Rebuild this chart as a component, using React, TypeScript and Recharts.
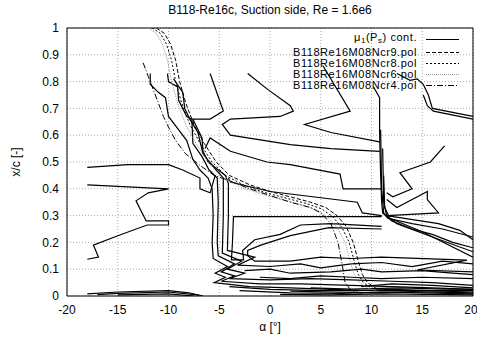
import { LineChart, Line, XAxis, YAxis, CartesianGrid, ReferenceArea, Label } from "recharts";

type Pt = { a: number; v: number };
const pts = (arr: number[][]): Pt[] => arr.map(([a, v]) => ({ a, v }));

const xTicks = [-20, -15, -10, -5, 0, 5, 10, 15, 20];
const yTicks = [0, 0.1, 0.2, 0.3, 0.4, 0.5, 0.6, 0.7, 0.8, 0.9, 1];

// transition curves from the polars
const ncr9 = [
  [-11.2, 1.0], [-10.4, 0.98], [-9.8, 0.94], [-9.3, 0.88], [-8.9, 0.8], [-8.3, 0.72], [-7.5, 0.64],
  [-6.5, 0.57], [-5.3, 0.5], [-4.0, 0.45], [-2, 0.415], [0, 0.39], [2, 0.37], [4, 0.35], [5.5, 0.33],
  [6.6, 0.3], [7.5, 0.26], [8.2, 0.2], [8.7, 0.13], [9.1, 0.08], [9.6, 0.05], [10.4, 0.03], [11, 0.02],
];
const ncr8 = [
  [-11.6, 1.0], [-10.8, 0.98], [-10.2, 0.94], [-9.7, 0.88], [-9.3, 0.8], [-8.7, 0.72], [-7.9, 0.64],
  [-6.9, 0.57], [-5.7, 0.5], [-4.4, 0.45], [-2.4, 0.41], [-0.4, 0.385], [1.6, 0.365], [3.6, 0.345],
  [5.1, 0.325], [6.2, 0.295], [7.1, 0.255], [7.8, 0.2], [8.3, 0.13], [8.7, 0.08], [9.2, 0.05],
  [10, 0.03], [10.8, 0.02],
];
const ncr6 = [
  [-12.0, 1.0], [-11.2, 0.98], [-10.6, 0.94], [-10.1, 0.88], [-9.7, 0.8], [-9.1, 0.72], [-8.3, 0.64],
  [-7.3, 0.57], [-6.1, 0.5], [-4.8, 0.445], [-2.8, 0.405], [-0.8, 0.38], [1.2, 0.36], [3.2, 0.34],
  [4.7, 0.32], [5.8, 0.29], [6.7, 0.25], [7.4, 0.2], [7.9, 0.13], [8.3, 0.08], [8.8, 0.05],
  [9.6, 0.03], [10.5, 0.02],
];
const ncr4 = [
  [-12.5, 0.87], [-12.0, 0.82], [-11.3, 0.75], [-10.5, 0.67], [-10.0, 0.63], [-9.3, 0.58], [-8.3, 0.53],
  [-7, 0.49], [-5.5, 0.45], [-4, 0.43], [-2, 0.4], [0, 0.375], [2, 0.35], [4, 0.33], [5, 0.31],
  [6, 0.27], [6.7, 0.2], [7.1, 0.12], [7.4, 0.05], [8, 0.02], [9, 0.01],
];

// mu_1(P_s) contour lines
const contours = [
  [[-11.8, 0.83], [-11.8, 0.79], [-11.0, 0.76], [-10.3, 0.74], [-10.0, 0.67], [-9.2, 0.63], [-8.2, 0.58],
    [-7.6, 0.51], [-6.9, 0.47], [-6.1, 0.44], [-5.7, 0.4], [-5.6, 0.3], [-5.7, 0.2], [-5.6, 0.14],
    [-4.2, 0.11], [-5.4, 0.085], [-4.4, 0.07], [-5.5, 0.05], [-2, 0.035], [2, 0.03], [6, 0.025],
    [10, 0.02], [15, 0.02], [20, 0.015]],
  [[-10.1, 0.83], [-10.0, 0.8], [-9.1, 0.78], [-9.0, 0.73], [-8.2, 0.67], [-7.7, 0.66], [-7.6, 0.57],
    [-6.7, 0.52], [-6.0, 0.47], [-5.2, 0.44], [-5.1, 0.35], [-5.2, 0.2], [-5.1, 0.15], [-3.5, 0.12],
    [-4.8, 0.09], [-3.5, 0.075], [-4.8, 0.055], [-1, 0.045], [3, 0.045], [8, 0.04], [12, 0.035],
    [16, 0.03], [20, 0.025]],
  [[-9.5, 0.81], [-8.6, 0.76], [-8.4, 0.7], [-7.9, 0.66], [-7.1, 0.61], [-6.6, 0.53], [-5.3, 0.47],
    [-4.6, 0.44], [-4.6, 0.3], [-4.7, 0.16], [-2.8, 0.13], [-4.2, 0.1], [-2.5, 0.085], [-4, 0.065],
    [0, 0.06], [4, 0.065], [8, 0.06], [12, 0.055], [16, 0.05], [20, 0.04]],
  [[-5.9, 0.83], [-4.6, 0.69], [-5.9, 0.66], [-7.6, 0.66], [-6.7, 0.59], [-6.6, 0.54], [-6.1, 0.5],
    [-5.6, 0.485], [-4.4, 0.45], [-4.1, 0.42], [-4.1, 0.3], [-4.2, 0.17], [-1.5, 0.145], [-3.2, 0.115],
    [0, 0.11], [3, 0.12], [5, 0.105], [8, 0.12], [11, 0.125], [14, 0.11], [17, 0.13], [20, 0.12]],
  [[-18, 0.48], [-14, 0.49], [-10, 0.49], [-8.6, 0.47], [-6.9, 0.44], [-6.9, 0.4], [-5.9, 0.385],
    [-5.4, 0.45]],
  [[-18, 0.415], [-10, 0.4], [-12, 0.385], [-13.2, 0.355], [-12.2, 0.28], [-10, 0.28], [-10, 0.265],
    [-12.1, 0.265], [-15, 0.225], [-17.4, 0.19], [-16.9, 0.145], [-18, 0.137]],
  [[-6.4, 0.55], [-5.9, 0.59], [-3.9, 0.54], [-0.3, 0.5], [2, 0.49], [6.9, 0.455], [7.2, 0.4], [11, 0.4]],
  [[-4.1, 0.44], [-3.9, 0.425], [0, 0.39], [8.6, 0.35], [9.1, 0.31], [11, 0.3]],
  [[-2.2, 0.83], [-0.2, 0.77], [2, 0.71], [2.3, 0.69], [1, 0.67], [-3.9, 0.66], [-4.7, 0.64],
    [-3.9, 0.6], [2, 0.565], [6, 0.55], [10.8, 0.54]],
  [[5.2, 0.86], [7.9, 0.69], [3.4, 0.64], [6, 0.61], [10.8, 0.575]],
  [[11, 0.296], [-3.6, 0.296], [-3.7, 0.2], [-3.8, 0.135], [-2.6, 0.135], [-2.7, 0.17], [-1.5, 0.21],
    [1, 0.23], [3, 0.265], [6, 0.27], [11, 0.26]],
  [[11, 0.25], [5.8, 0.255], [2, 0.225], [-0.9, 0.19], [-2.2, 0.17], [-2.2, 0.15], [-1.5, 0.13],
    [2, 0.13], [5, 0.145], [8, 0.14], [11, 0.145], [19.4, 0.134], [14.5, 0.097], [20, 0.09]],
  [[-2.5, 0.095], [0, 0.1], [2, 0.085], [6, 0.09], [9, 0.1], [11, 0.09], [15, 0.095], [18, 0.085],
    [20, 0.08]],
  [[-1, 0.07], [2, 0.065], [5, 0.075], [8, 0.07], [11, 0.065], [15, 0.07], [20, 0.065]],
  [[10.2, 0.78], [10.8, 0.74], [10.8, 0.6], [10.9, 0.45], [11.0, 0.35], [11.1, 0.31], [12, 0.28],
    [14, 0.25], [16, 0.23], [18, 0.2], [20, 0.18]],
  [[10.9, 0.62], [11.0, 0.4], [11.2, 0.31], [11.6, 0.29], [14, 0.27], [17, 0.25], [20, 0.22]],
  [[11.1, 0.55], [11.2, 0.35], [11.5, 0.3], [12.5, 0.27], [16, 0.22], [20, 0.165]],
  [[11.2, 0.45], [11.3, 0.33], [11.8, 0.29], [15, 0.24], [20, 0.145]],
  [[11.5, 0.3], [16.6, 0.27], [18.7, 0.245], [20, 0.21]],
  [[17.2, 0.56], [15.8, 0.5], [12.8, 0.46], [14, 0.4], [12.1, 0.37], [11.5, 0.385]],
  [[11.5, 0.36], [12.5, 0.33], [15.5, 0.39], [15.5, 0.36], [16.6, 0.31], [11.5, 0.3]],
  [[12.5, 0.83], [13.8, 0.805], [14.5, 0.81], [15.1, 0.79], [15.6, 0.75], [16, 0.7], [20, 0.67]],
  [[15.1, 0.75], [15.5, 0.71], [16.1, 0.69], [20, 0.66]],
  [[-18, 0.008], [-15, 0.015], [-10, 0.02], [-8, 0.012], [-6.6, 0.0]],
  [[-17, 0.005], [-15, 0.01], [-10, 0.015], [-7, 0.003]],
  [[-15, 0.004], [-10, 0.008], [-7.5, 0.0]],
  [[-4, 0.035], [0, 0.025], [5, 0.02], [9, 0.02], [12, 0.025], [16, 0.02], [20, 0.02]],
  [[-3, 0.02], [2, 0.012], [7, 0.01], [11, 0.015], [15, 0.012], [20, 0.008]],
  [[1, 0.006], [6, 0.004], [11, 0.008], [20, 0.004]],
  [[9, 0.035], [12, 0.045], [16, 0.04], [20, 0.03]],
  [[2, 0.018], [6, 0.015], [10, 0.012], [14, 0.016], [20, 0.012]],
  [[4, 0.03], [8, 0.026], [13, 0.03], [17, 0.026], [20, 0.025]],
];

const legendRows = [
  { label: "cont.", dash: "", color: "#000", mu: true },
  { label: "B118Re16M08Ncr9.pol", dash: "4 2", color: "#000" },
  { label: "B118Re16M08Ncr8.pol", dash: "2 2", color: "#000" },
  { label: "B118Re16M08Ncr6.pol", dash: "1 1", color: "#999" },
  { label: "B118Re16M08Ncr4.pol", dash: "6 2 1 2", color: "#000" },
];
const legendCenters = [37.5, 52, 63.3, 74.6, 85.9];

const font = '"Liberation Sans", Arial, sans-serif';

export default function App() {
  const polars = [
    { d: ncr9, dash: "4 2", color: "#000" },
    { d: ncr8, dash: "2 2", color: "#000" },
    { d: ncr6, dash: "1 1", color: "#999" },
    { d: ncr4, dash: "6 2 1 2", color: "#000" },
  ];
  return (
    <div style={{ position: "absolute", left: 0, top: 0, width: 477, height: 338, fontFamily: font, background: "#fff" }}>
      <div style={{ position: "absolute", top: 3, left: 67, width: 406, textAlign: "center", fontSize: 12 }}>
        B118-Re16c, Suction side, Re = 1.6e6
      </div>
      <LineChart width={477} height={338} margin={{ top: 28, right: 4, bottom: 0, left: 0 }}>
        <CartesianGrid stroke="#aaa" strokeDasharray="1 2" />
        <XAxis
          type="number"
          dataKey="a"
          domain={[-20, 20]}
          ticks={xTicks}
          allowDataOverflow
          height={42}
          tickLine={false}
          axisLine={false}
          tickSize={0}
          tickMargin={9}
          tick={{ fill: "#000", fontSize: 12, fontFamily: font }}
        >
          <Label value="α [°]" position="insideBottom" offset={7} fill="#000" fontSize={12} fontFamily={font} />
        </XAxis>
        <YAxis
          type="number"
          dataKey="v"
          domain={[0, 1]}
          ticks={yTicks}
          allowDataOverflow
          width={67}
          tickLine={false}
          axisLine={false}
          tickSize={0}
          tickMargin={8}
          tick={{ fill: "#000", fontSize: 12, fontFamily: font }}
        >
          <Label value="x/c [-]" angle={-90} position="insideLeft" offset={16} fill="#000" fontSize={12} fontFamily={font} style={{ textAnchor: "middle" }} />
        </YAxis>
        {contours.map((c, i) => (
          <Line
            key={"c" + i}
            data={pts(c)}
            dataKey="v"
            stroke="#000"
            strokeWidth={1.2}
            dot={false}
            activeDot={false}
            isAnimationActive={false}
            type="linear"
          />
        ))}
        {polars.map((p, i) => (
          <Line
            key={"p" + i}
            data={pts(p.d)}
            dataKey="v"
            stroke={p.color}
            strokeWidth={1}
            strokeDasharray={p.dash}
            dot={false}
            activeDot={false}
            isAnimationActive={false}
            type="linear"
          />
        ))}
        <ReferenceArea x1={-20} x2={20} y1={0} y2={1} fill="none" fillOpacity={0} stroke="#000" strokeWidth={1} ifOverflow="visible" />
      </LineChart>
      {legendRows.map((r, i) => (
        <div
          key={i}
          style={{ position: "absolute", top: legendCenters[i] - 5.5, left: 220, width: 250, height: 11, fontSize: 11, lineHeight: "11px", letterSpacing: 0.55 }}
        >
          <div style={{ position: "absolute", left: 0, top: 0, width: 197, textAlign: "right", whiteSpace: "nowrap" }}>
            {r.mu ? (
              <span>
                μ<span style={{ fontSize: 8, position: "relative", top: 2 }}>1</span>(P
                <span style={{ fontSize: 8, position: "relative", top: 2 }}>s</span>) {r.label}
              </span>
            ) : (
              r.label
            )}
          </div>
          <svg width={40} height={11} style={{ position: "absolute", left: 206, top: r.mu ? 2 : 0 }}>
            <line x1={0} y1={5.5} x2={33} y2={5.5} stroke={r.color} strokeWidth={r.mu ? 1.2 : 1} strokeDasharray={r.dash || undefined} />
          </svg>
        </div>
      ))}
    </div>
  );
}
